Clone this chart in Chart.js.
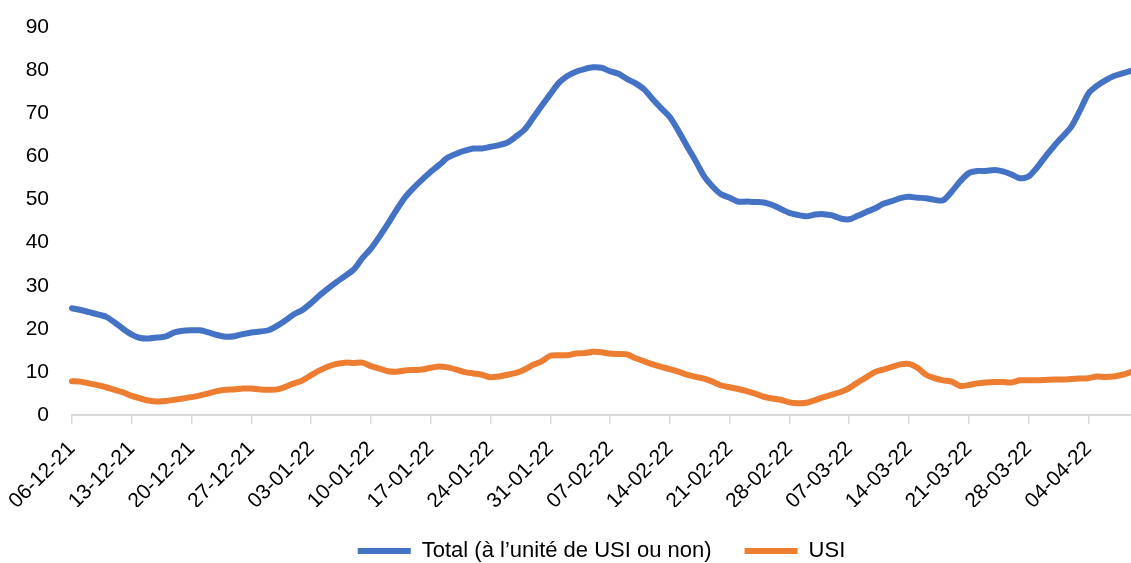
<!DOCTYPE html>
<html>
<head>
<meta charset="utf-8">
<script src="https://cdn.jsdelivr.net/npm/chart.js@4"></script>
<style>
  html, body { margin: 0; padding: 0; background: #ffffff; }
  #wrap { width: 1131px; height: 563px; }
</style>
</head>
<body>
<div id="wrap"><canvas id="c" width="1131" height="563"></canvas></div>
<script>
// Daily categories: 06-12-21 .. 08-04-22
const startDate = new Date(2021, 11, 6);
const dayCount = 125;
const categories = [];
for (let i = 0; i < dayCount; i++) {
  const d = new Date(startDate.getFullYear(), startDate.getMonth(), startDate.getDate() + i);
  const dd = String(d.getDate()).padStart(2, '0');
  const mm = String(d.getMonth() + 1).padStart(2, '0');
  const yy = String(d.getFullYear()).slice(2);
  categories.push(dd + '-' + mm + '-' + yy);
}

const tickLabels = ['06-12-21','13-12-21','20-12-21','27-12-21','03-01-22','10-01-22','17-01-22',
  '24-01-22','31-01-22','07-02-22','14-02-22','21-02-22','28-02-22','07-03-22','14-03-22',
  '21-03-22','28-03-22','04-04-22'];

const totalValues = [
  24.8,24.4,23.9,23.4,22.8,21.5,20.0,18.7,17.9,17.8,
  18.0,18.3,19.2,19.6,19.7,19.7,19.2,18.6,18.2,18.3,
  18.8,19.2,19.4,19.7,20.7,22.0,23.4,24.4,26.0,27.8,
  29.4,30.9,32.3,33.8,36.4,38.6,41.4,44.4,47.6,50.5,
  52.7,54.6,56.4,58.0,59.7,60.6,61.3,61.8,61.8,62.2,
  62.6,63.2,64.6,66.2,68.9,71.7,74.4,77.0,78.6,79.6,
  80.2,80.6,80.5,79.7,79.1,77.9,76.9,75.5,73.2,71.1,
  69.1,65.9,62.4,59.0,55.4,53.0,51.2,50.4,49.5,49.5,
  49.4,49.3,48.7,47.8,46.9,46.4,46.1,46.5,46.6,46.3,
  45.6,45.4,46.2,47.1,47.9,49.0,49.6,50.3,50.6,50.4,
  50.3,49.9,49.8,51.8,54.2,56.1,56.6,56.6,56.8,56.5,
  55.8,54.9,55.3,57.4,60.0,62.4,64.6,66.8,70.5,74.5,
  76.3,77.6,78.6,79.2,79.8
];

const usiValues = [
  7.9,7.8,7.4,7.0,6.5,5.9,5.3,4.5,3.9,3.4,
  3.2,3.3,3.6,3.9,4.2,4.6,5.1,5.6,5.9,6.0,
  6.2,6.2,6.0,5.9,6.0,6.6,7.4,8.1,9.3,10.4,
  11.3,11.9,12.2,12.1,12.2,11.4,10.8,10.2,10.1,10.4,
  10.5,10.6,11.0,11.3,11.1,10.6,10.0,9.7,9.4,8.8,
  9.0,9.4,9.8,10.6,11.7,12.5,13.8,13.9,13.9,14.3,
  14.4,14.7,14.6,14.3,14.2,14.1,13.2,12.5,11.8,11.2,
  10.7,10.1,9.4,8.9,8.5,7.8,6.9,6.5,6.1,5.6,
  5.0,4.3,3.9,3.6,3.0,2.8,2.9,3.5,4.2,4.8,
  5.4,6.3,7.6,8.8,10.0,10.6,11.2,11.8,11.9,11.0,
  9.4,8.6,8.1,7.8,6.8,7.0,7.4,7.6,7.7,7.7,
  7.6,8.1,8.1,8.1,8.2,8.3,8.3,8.4,8.5,8.6,
  9.0,8.9,9.0,9.4,10.0
];

const seriesNames = ['Total (à l\u2019unité de USI ou non)', 'USI'];
const seriesColors = ['#4472C4', '#ED7D31'];

const FONT = 'Liberation Sans';

new Chart(document.getElementById('c'), {
  type: 'line',
  data: {
    labels: categories,
    datasets: [
      {
        label: seriesNames[0],
        data: totalValues,
        borderColor: seriesColors[0],
        backgroundColor: seriesColors[0],
        borderWidth: 6,
        borderCapStyle: 'round',
        borderJoinStyle: 'round',
        pointRadius: 0,
        pointStyle: 'line',
        tension: 0.25,
        fill: false
      },
      {
        label: seriesNames[1],
        data: usiValues,
        borderColor: seriesColors[1],
        backgroundColor: seriesColors[1],
        borderWidth: 6,
        borderCapStyle: 'round',
        borderJoinStyle: 'round',
        pointRadius: 0,
        pointStyle: 'line',
        tension: 0.25,
        fill: false
      }
    ]
  },
  options: {
    responsive: false,
    animation: false,
    layout: { padding: { left: 22, right: 0, top: 0, bottom: -9 } },
    plugins: {
      tooltip: { enabled: false },
      legend: {
        position: 'bottom',
        fullSize: false,
        labels: {
          usePointStyle: true,
          pointStyleWidth: 53,
          boxHeight: 20,
          padding: 33,
          color: '#000000',
          font: { family: FONT, size: 22 }
        }
      }
    },
    scales: {
      x: {
        type: 'category',
        offset: false,
        afterBuildTicks: (axis) => {
          axis.ticks = axis.ticks.filter(t => t.value % 7 === 0);
        },
        afterFit: (axis) => { axis.height = 91.7; },
        grid: {
          display: true,
          drawOnChartArea: false,
          drawTicks: true,
          tickLength: 12,
          tickBorderDash: [8, 60],
          color: '#d9d9d9',
          lineWidth: 1.5
        },
        border: { display: true, color: '#d9d9d9', width: 2 },
        ticks: {
          autoSkip: false,
          maxRotation: 45,
          minRotation: 45,
          padding: 4,
          color: '#000000',
          font: { family: FONT, size: 21, lineHeight: 1.9 },
          callback: function (value) {
            return value % 7 === 0 ? tickLabels[value / 7] : '';
          }
        }
      },
      y: {
        min: 0,
        max: 90,
        afterFit: (axis) => { axis.width = 50; },
        ticks: {
          stepSize: 10,
          padding: 23,
          color: '#000000',
          font: { family: FONT, size: 21, lineHeight: 0.36 }
        },
        grid: { display: false, drawTicks: false, tickLength: 0 },
        border: { display: false }
      }
    }
  }
});
</script>
</body>
</html>
